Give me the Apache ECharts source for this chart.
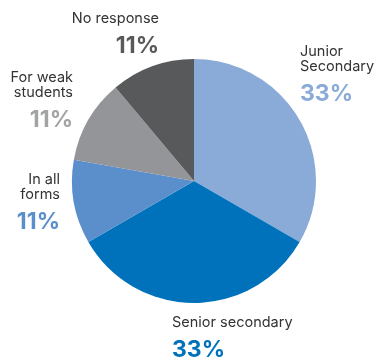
<!DOCTYPE html>
<html>
<head>
<meta charset="utf-8">
<style>
  html, body { margin: 0; padding: 0; background: #fff; }
  #chart { width: 378px; height: 360px; }
</style>
<script src="https://cdn.jsdelivr.net/npm/echarts@6/dist/echarts.min.js"></script>
</head>
<body>
<div id="chart"></div>
<script>
// Where the courses are offered
const categories = ['Junior\nSecondary', 'Senior secondary', 'In all\nforms', 'For weak\nstudents', 'No response'];
const values = [33, 33, 11, 11, 11];
const sliceColors = ['#8aaad8', '#0072bc', '#5b8fcc', '#949598', '#58595b'];
const percentColors = ['#8aaad8', '#0072bc', '#5b8fcc', '#a2a3a5', '#58595b'];

// Label anchors: [x, y, align]
const labelSpots = [
  [300, 44, 'left'],
  [172, 315, 'left'],
  [60, 172, 'right'],
  [73, 70, 'right'],
  [159, 11, 'right']
];

const chart = echarts.init(document.getElementById('chart'));
const fontFamily = 'Inter, Roboto, "Noto Sans", sans-serif';

chart.setOption({
  animation: false,
  series: [{
    type: 'pie',
    center: [194, 181],
    radius: [0, 122],
    startAngle: 90,
    clockwise: true,
    data: categories.map((name, i) => ({
      name: name,
      value: values[i],
      itemStyle: { color: sliceColors[i] },
      label: {
        rich: {
          n: { fontSize: 14.5, lineHeight: 15, color: '#333', fontFamily: fontFamily, align: labelSpots[i][2] },
          p: { fontSize: 23, fontWeight: 'bold', lineHeight: 40, color: percentColors[i], fontFamily: fontFamily, align: labelSpots[i][2] }
        }
      }
    })),
    label: {
      show: true,
      position: 'outside',
      overflow: 'none',
      width: 200,
      formatter: (p) => '{n|' + p.name.split('\n').join('}\n{n|') + '}\n{p|' + Math.round(p.percent) + '%}'
    },
    labelLine: { show: false },
    labelLayout: (params) => {
      const s = labelSpots[params.dataIndex];
      return { x: s[0], y: s[1], align: s[2], verticalAlign: 'top', hideOverlap: false };
    },
    emphasis: { disabled: true }
  }]
});
</script>
</body>
</html>
